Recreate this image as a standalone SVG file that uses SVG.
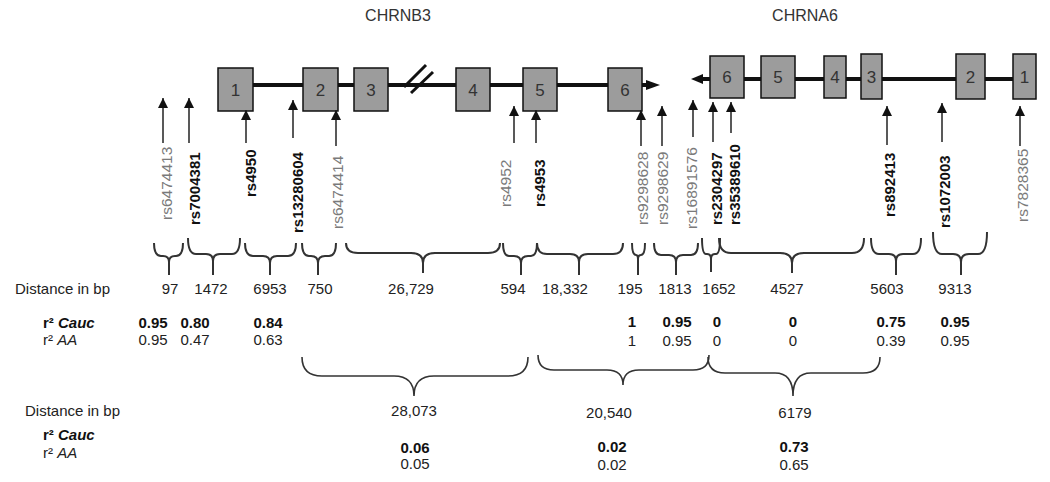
<svg xmlns="http://www.w3.org/2000/svg" width="1050" height="482" viewBox="0 0 1050 482">
<defs>
<marker id="ah" viewBox="0 0 10 10" refX="10" refY="5" markerWidth="10" markerHeight="10" markerUnits="userSpaceOnUse" orient="auto"><path d="M0,0 L10,5 L0,10 z" fill="#111"/></marker>
<style>
.title{font-family:"Liberation Sans",Arial,sans-serif;font-size:16px;fill:#333;text-anchor:middle}
.exon{fill:#9c9c9c;stroke:#111;stroke-width:1.5}
.en{font-family:"Liberation Sans",Arial,sans-serif;font-size:17px;fill:#333;text-anchor:middle}
.gline{stroke:#111;stroke-width:4;fill:none}
.arr{stroke:#222;stroke-width:1.5;marker-end:url(#ah)}
.lg{font-family:"Liberation Sans",Arial,sans-serif;font-size:15.5px;fill:#7a7a7a}
.lb{font-family:"Liberation Sans",Arial,sans-serif;font-size:15px;font-weight:bold;fill:#111}
.br{fill:none;stroke:#333;stroke-width:2;stroke-linejoin:round}
.br2{fill:none;stroke:#333;stroke-width:1.6}
.t{font-family:"Liberation Sans",Arial,sans-serif;font-size:15px;fill:#222}
.n{font-family:"Liberation Sans",Arial,sans-serif;font-size:15px;fill:#222;text-anchor:middle}
.nb{font-family:"Liberation Sans",Arial,sans-serif;font-size:15px;font-weight:bold;fill:#111;text-anchor:middle}
.tb{font-family:"Liberation Sans",Arial,sans-serif;font-size:15px;font-weight:bold;fill:#111}
</style>
</defs>
<rect width="1050" height="482" fill="#fff"/>

<g id="gene-chrnb3">
<text class="title" x="398" y="21">CHRNB3</text>
<line class="gline" x1="253" y1="85" x2="648" y2="85"/>
<path d="M646,80 L660,85 L646,90 z" fill="#111"/>
<g id="b3-break" stroke="#111" stroke-width="3"><line x1="404" y1="87" x2="426" y2="65"/><line x1="411" y1="93" x2="433" y2="72"/></g>
<g id="b3-exon1"><rect class="exon" x="218" y="68" width="35" height="43"/><text class="en" x="235.5" y="95.5">1</text></g>
<g id="b3-exon2"><rect class="exon" x="303" y="68" width="35" height="43"/><text class="en" x="320.5" y="95.5">2</text></g>
<g id="b3-exon3"><rect class="exon" x="354" y="68" width="34" height="43"/><text class="en" x="371" y="95.5">3</text></g>
<g id="b3-exon4"><rect class="exon" x="456" y="68" width="34" height="43"/><text class="en" x="473" y="95.5">4</text></g>
<g id="b3-exon5"><rect class="exon" x="523" y="68" width="34" height="43"/><text class="en" x="540" y="95.5">5</text></g>
<g id="b3-exon6"><rect class="exon" x="608" y="68" width="34" height="43"/><text class="en" x="625" y="95.5">6</text></g>
</g>

<g id="gene-chrna6">
<text class="title" x="805" y="21">CHRNA6</text>
<line class="gline" x1="700" y1="79" x2="1013" y2="79"/>
<path d="M703,74 L691,79 L703,84 z" fill="#111"/>
<g id="a6-exon6"><rect class="exon" x="710" y="56" width="34" height="42"/><text class="en" x="727" y="83">6</text></g>
<g id="a6-exon5"><rect class="exon" x="761" y="56" width="34" height="42"/><text class="en" x="778" y="83">5</text></g>
<g id="a6-exon4"><rect class="exon" x="824" y="56" width="22" height="42"/><text class="en" x="835" y="83">4</text></g>
<g id="a6-exon3"><rect class="exon" x="861" y="54" width="21" height="45"/><text class="en" x="871.5" y="83">3</text></g>
<g id="a6-exon2"><rect class="exon" x="956" y="54" width="29" height="45"/><text class="en" x="970.5" y="83">2</text></g>
<g id="a6-exon1"><rect class="exon" x="1013" y="54" width="23" height="45"/><text class="en" x="1024.5" y="83">1</text></g>
</g>

<g id="connectors">
<g id="snp-arrows">
<line class="arr" x1="163" y1="143" x2="163" y2="98"/>
<line class="arr" x1="189" y1="143" x2="189" y2="98"/>
<line class="arr" x1="246" y1="143" x2="246" y2="110"/>
<line class="arr" x1="293" y1="138" x2="293" y2="100"/>
<line class="arr" x1="336" y1="146" x2="336" y2="110"/>
<line class="arr" x1="514" y1="143" x2="514" y2="106"/>
<line class="arr" x1="536" y1="143" x2="536" y2="110"/>
<line class="arr" x1="641" y1="146" x2="641" y2="110"/>
<line class="arr" x1="662" y1="146" x2="662" y2="106"/>
<line class="arr" x1="693" y1="137" x2="693" y2="100"/>
<line class="arr" x1="713" y1="142" x2="713" y2="102"/>
<line class="arr" x1="731" y1="133" x2="731" y2="102"/>
<line class="arr" x1="887" y1="145" x2="887" y2="106"/>
<line class="arr" x1="942" y1="142" x2="942" y2="103"/>
<line class="arr" x1="1020" y1="146" x2="1020" y2="106"/>
</g>
<g id="braces-1">
<path class="br" d="M154,243 Q154,256 161,256 L163,256 Q169,256 169,262 L169,275 M183,243 Q183,256 176,256 L175,256 Q169,256 169,262"/>
<path class="br" d="M188,238 Q188,254 196,254 L206,254 Q213,254 213,261 L213,275 M240,238 Q240,254 232,254 L220,254 Q213,254 213,261"/>
<path class="br" d="M245,243 Q245,256 253,256 L263,256 Q270,256 270,263 L270,275 M296,243 Q296,256 288,256 L277,256 Q270,256 270,263"/>
<path class="br" d="M302,243 Q302,256 309,256 L311,256 Q318,256 318,263 L318,275 M336,243 Q336,256 329,256 L325,256 Q318,256 318,263"/>
<path class="br" d="M346,243 Q346,253 358,253 L411,253 Q423,253 423,263 L423,273 M500,243 Q500,253 488,253 L435,253 Q423,253 423,263"/>
<path class="br" d="M503,243 Q503,256 509,256 L514,256 Q521,256 521,263 L521,275 M537,243 Q537,256 531,256 L528,256 Q521,256 521,263"/>
<path class="br" d="M537,243 Q537,254 547,254 L570,254 Q579,254 579,262 L579,275 M623,243 Q623,254 613,254 L588,254 Q579,254 579,262"/>
<path class="br" d="M632,243 Q632,255 636,255 Q638,255 638,259 L638,275 M645,243 Q645,255 641,255 Q638,255 638,259"/>
<path class="br" d="M654,243 Q654,255 661,255 L669,255 Q676,255 676,262 L676,275 M698,243 Q698,255 691,255 L683,255 Q676,255 676,262"/>
<path class="br" d="M702,238 Q702,254 706,254 L707,254 Q711,254 711,259 L711,272 M720,238 Q720,254 716,254 L715,254 Q711,254 711,259"/>
<path class="br" d="M719,238 Q719,253 731,253 L780,253 Q792,253 792,263 L792,273 M864,238 Q864,253 852,253 L804,253 Q792,253 792,263"/>
<path class="br" d="M871,238 Q871,254 879,254 L889,254 Q896,254 896,261 L896,275 M921,238 Q921,254 913,254 L903,254 Q896,254 896,261"/>
<path class="br" d="M933,232 Q933,254 942,254 L953,254 Q961,254 961,262 L961,275 M987,232 Q987,254 978,254 L969,254 Q961,254 961,262"/>
</g>
<g id="braces-2">
<path class="br2" d="M302,357 Q302,376 322,376 L394,376 Q414,376 414,396 M528,357 Q528,376 508,376 L434,376 Q414,376 414,396"/>
<path class="br2" d="M538,355 Q538,370 554,370 L607,370 Q623,370 623,385 M709,355 Q709,370 693,370 L639,370 Q623,370 623,385"/>
<path class="br2" d="M708,357 Q708,373 725,373 L775,373 Q793,373 793,396 M880,357 Q880,373 863,373 L811,373 Q793,373 793,396"/>
</g>
</g>

<g id="snp-labels">
<text class="lg" transform="translate(172,220) rotate(-90)">rs6474413</text>
<text class="lb" transform="translate(200,225) rotate(-90)">rs7004381</text>
<text class="lb" transform="translate(256,197) rotate(-90)">rs4950</text>
<text class="lb" transform="translate(303,233) rotate(-90)">rs13280604</text>
<text class="lg" transform="translate(343,229) rotate(-90)">rs6474414</text>
<text class="lg" transform="translate(511,207) rotate(-90)">rs4952</text>
<text class="lb" transform="translate(545,207) rotate(-90)">rs4953</text>
<text class="lg" transform="translate(648,225) rotate(-90)">rs9298628</text>
<text class="lg" transform="translate(668,225) rotate(-90)">rs9298629</text>
<text class="lg" transform="translate(697,229) rotate(-90)">rs16891576</text>
<text class="lb" transform="translate(722,225) rotate(-90)">rs2304297</text>
<text class="lb" transform="translate(740,225) rotate(-90)">rs35389610</text>
<text class="lb" transform="translate(895,217) rotate(-90)">rs892413</text>
<text class="lb" transform="translate(950,228) rotate(-90)">rs1072003</text>
<text class="lg" transform="translate(1028,222) rotate(-90)">rs7828365</text>
</g>

<g id="table-1">
<text class="t" x="15" y="294">Distance in bp</text>
<text class="n" x="170" y="294">97</text>
<text class="n" x="211" y="294">1472</text>
<text class="n" x="270" y="294">6953</text>
<text class="n" x="320" y="294">750</text>
<text class="n" x="411" y="294">26,729</text>
<text class="n" x="513" y="294">594</text>
<text class="n" x="565" y="294">18,332</text>
<text class="n" x="630" y="294">195</text>
<text class="n" x="675" y="294">1813</text>
<text class="n" x="719" y="294">1652</text>
<text class="n" x="787" y="294">4527</text>
<text class="n" x="887" y="294">5603</text>
<text class="n" x="955" y="294">9313</text>
<text class="tb" x="43" y="328">r² <tspan font-style="italic">Cauc</tspan></text>
<text class="t" x="43" y="345">r² <tspan font-style="italic">AA</tspan></text>
<text class="nb" x="153" y="328">0.95</text>
<text class="nb" x="195" y="328">0.80</text>
<text class="nb" x="268" y="328">0.84</text>
<text class="nb" x="632" y="327">1</text>
<text class="nb" x="677" y="327">0.95</text>
<text class="nb" x="717" y="327">0</text>
<text class="nb" x="793" y="327">0</text>
<text class="nb" x="891" y="327">0.75</text>
<text class="nb" x="955" y="327">0.95</text>
<text class="n" x="153" y="345">0.95</text>
<text class="n" x="195" y="345">0.47</text>
<text class="n" x="268" y="345">0.63</text>
<text class="n" x="632" y="346">1</text>
<text class="n" x="677" y="346">0.95</text>
<text class="n" x="717" y="346">0</text>
<text class="n" x="793" y="346">0</text>
<text class="n" x="891" y="346">0.39</text>
<text class="n" x="955" y="346">0.95</text>
</g>

<g id="table-2">
<text class="t" x="25" y="416">Distance in bp</text>
<text class="n" x="414" y="416">28,073</text>
<text class="n" x="609" y="418">20,540</text>
<text class="n" x="795" y="418">6179</text>
<text class="tb" x="43" y="440">r² <tspan font-style="italic">Cauc</tspan></text>
<text class="t" x="43" y="458">r² <tspan font-style="italic">AA</tspan></text>
<text class="nb" x="415" y="453">0.06</text>
<text class="nb" x="612" y="452">0.02</text>
<text class="nb" x="794" y="452">0.73</text>
<text class="n" x="415" y="469">0.05</text>
<text class="n" x="612" y="470">0.02</text>
<text class="n" x="794" y="470">0.65</text>
</g>
</svg>
